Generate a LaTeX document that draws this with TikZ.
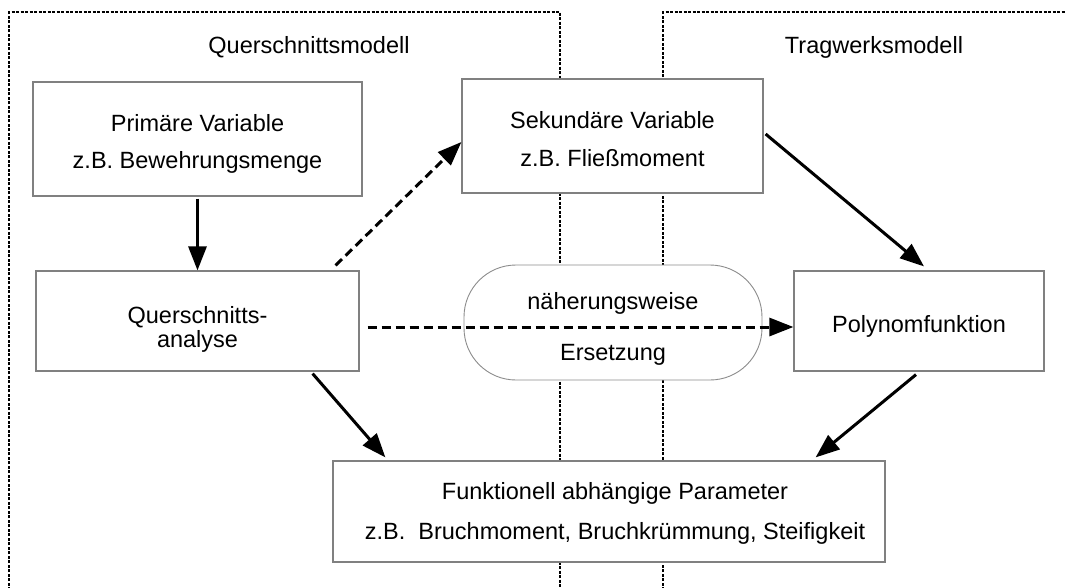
\documentclass[tikz,border=0pt]{standalone}
\usepackage{fontspec}
\setmainfont{Liberation Sans}
\usetikzlibrary{arrows.meta}
\begin{document}
\begin{tikzpicture}[x=1pt,y=-1pt,
  modelframe/.style={line width=1.6pt, black, dash pattern=on 3pt off 1.5pt},
  box/.style={draw=black!50, line width=1.2pt, fill=white, inner sep=0pt},
  capsule/.style={draw=black!45, line width=0.9pt, fill=white, inner sep=0pt,
    rounded corners=52pt},
  boxtext/.style={inner sep=0pt, align=center},
  title/.style={inner sep=0pt, font=\fontsize{23.5}{28}\selectfont},
  flow/.style={line width=3pt, -{Triangle[length=24pt,width=18pt]}},
  dflow/.style={flow, dash pattern=on 9pt off 5pt}
]
\useasboundingbox (0,0) rectangle (1066,587);

% model frames (open at the bottom)
\draw[modelframe] (9,590) -- (9,12) -- (560,12) -- (560,590);
\draw[modelframe] (663,590) -- (663,12) -- (1070,12);

% frame titles
\node[title] (tq) at (309,47) {Querschnittsmodell};
\node[title] (tt) at (874,47) {Tragwerksmodell};

% boxes
\node[box, minimum width=329pt, minimum height=114pt] (prim) at (197.5,139) {};
\node[box, minimum width=323pt, minimum height=100pt] (quer) at (197.5,321) {};
\node[box, minimum width=301pt, minimum height=114pt] (sek) at (612.5,136) {};
\node[capsule, minimum width=298pt, minimum height=115pt] (caps) at (613,322.5) {};
\node[box, minimum width=250pt, minimum height=100pt] (poly) at (919,321) {};
\node[box, minimum width=552pt, minimum height=101pt] (bot) at (609,511.5) {};

% box texts
\node[boxtext, font=\fontsize{23.5}{37}\selectfont] (primtxt) at (197.5,143.5)
  {Primäre Variable\\z.B. Bewehrungsmenge};
\node[boxtext, font=\fontsize{23.5}{24}\selectfont] (quertxt) at (197.5,329)
  {Querschnitts-\\analyse};
\node[boxtext, font=\fontsize{23.5}{38}\selectfont] (sektxt) at (612.5,139.5)
  {Sekundäre Variable\\z.B. Fließmoment};
\node[boxtext, font=\fontsize{23.5}{51}\selectfont] (capstxt) at (613,328.5)
  {näherungsweise\\Ersetzung};
\node[boxtext, font=\fontsize{23.5}{28}\selectfont] (polytxt) at (919,326)
  {Polynomfunktion};
\node[boxtext, font=\fontsize{23.5}{40}\selectfont] (bottxt) at (615,513.5)
  {Funktionell abhängige Parameter\\z.B.\ \ Bruchmoment, Bruchkrümmung, Steifigkeit};

% connectors
\draw[flow] ([yshift=-2pt]prim.south) -- (quer.north);
\draw[dflow] ([xshift=-24pt,yshift=5pt]quer.north east) -- ([yshift=-6pt]sek.west);
\draw[dflow] ([xshift=8pt,yshift=-6pt]quer.east) -- ([yshift=-6pt]poly.west);
\draw[flow] ([xshift=2pt,yshift=2pt]sek.east) -- ([xshift=5pt,yshift=4pt]poly.north);
\draw[flow] ([xshift=-47pt,yshift=-2pt]quer.south east) -- ([xshift=53pt,yshift=3pt]bot.north west);
\draw[flow] ([xshift=-3pt,yshift=-3pt]poly.south) -- ([xshift=-70pt,yshift=3pt]bot.north east);
\end{tikzpicture}
\end{document}
